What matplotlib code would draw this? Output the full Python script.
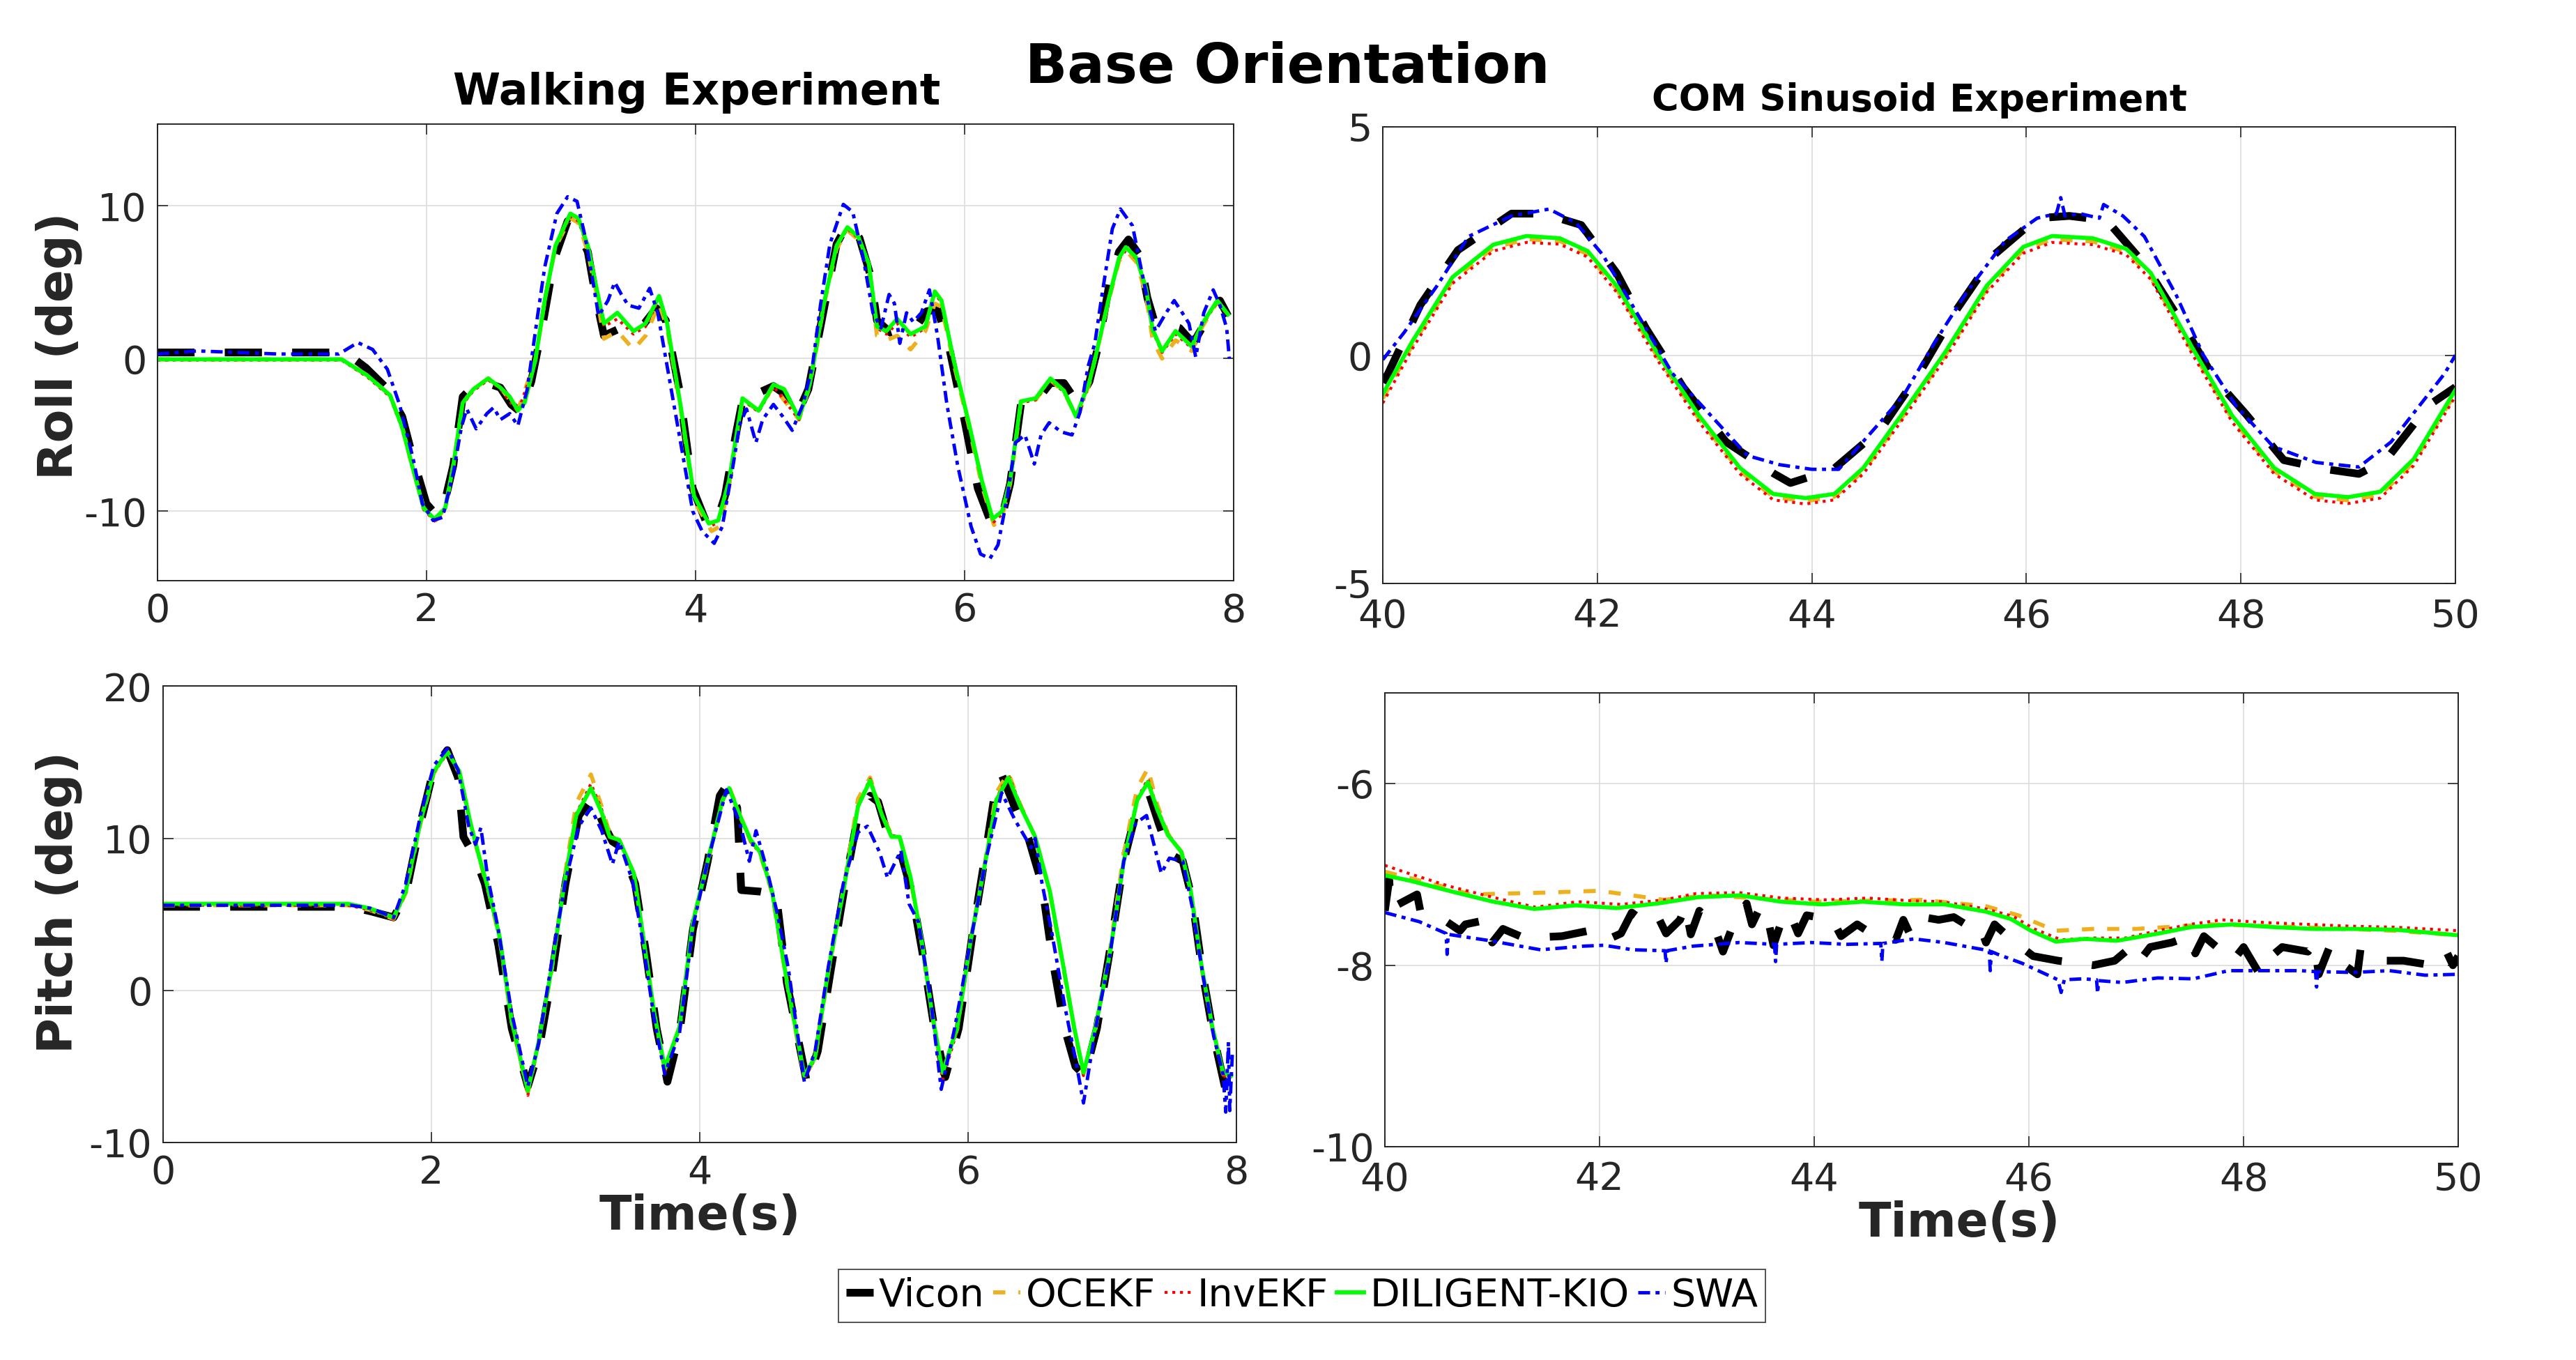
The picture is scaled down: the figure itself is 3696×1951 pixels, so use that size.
import matplotlib
matplotlib.use("Agg")
import matplotlib.pyplot as plt

plt.rcParams['font.family'] = ['DejaVu Sans']
plt.rcParams['axes.unicode_minus'] = False

# ---------------- data ----------------
# Walking experiment, roll (deg)
walk_roll_vicon_t = [0, 1.4, 1.55, 1.7, 1.82, 1.9, 2.0, 2.07, 2.12, 2.2, 2.27, 2.35, 2.45, 2.55, 2.63, 2.7, 2.78, 2.86, 2.95, 3.05,
                     3.12, 3.2, 3.26, 3.32, 3.42, 3.52, 3.62, 3.71, 3.78, 3.88, 3.98, 4.08, 4.15, 4.22, 4.3, 4.36, 4.48, 4.58, 4.66, 4.75,
                     4.84, 4.95, 5.05, 5.13, 5.22, 5.3, 5.35, 5.45, 5.55, 5.65, 5.72, 5.8, 5.88, 6.0, 6.1, 6.2, 6.27, 6.34, 6.42, 6.5,
                     6.56, 6.64, 6.74, 6.84, 6.93, 7.0, 7.08, 7.15, 7.22, 7.3, 7.36, 7.42, 7.52, 7.6, 7.7, 7.8, 7.9, 7.96]
walk_roll_vicon = [0.4, 0.4, -0.6, -1.9, -3.8, -6.5, -9.5, -10.2, -10.0, -7.0, -2.5, -1.8, -1.6, -1.9, -3.0, -3.5, -1.5, 2.0, 6.5, 9.0,
                   8.5, 7.0, 4.0, 1.5, 1.9, 1.7, 2.3, 3.3, 2.5, -2.0, -8.5, -10.7, -10.9, -9.0, -5.0, -2.3, -2.2, -1.8, -2.3, -3.8,
                   -2.0, 3.0, 7.5, 8.8, 7.9, 5.5, 2.5, 1.7, 2.0, 2.2, 3.1, 3.2, 1.0, -4.0, -8.5, -10.8, -10.7, -8.2, -3.0, -2.3,
                   -2.5, -1.6, -1.6, -2.9, -1.5, 1.0, 5.0, 7.0, 7.8, 6.8, 4.0, 2.2, 2.2, 2.0, 1.0, 2.5, 3.8, 2.8]

walk_roll_ocekf_t = [0, 1.37, 1.56, 1.73, 1.82, 1.90, 1.98, 2.07, 2.14, 2.20, 2.27, 2.35, 2.46, 2.55, 2.68, 2.81, 2.88, 2.96, 3.07, 3.13,
                     3.20, 3.27, 3.32, 3.42, 3.54, 3.63, 3.73, 3.79, 3.89, 3.99, 4.12, 4.18, 4.25, 4.35, 4.47, 4.58, 4.77, 4.85, 4.96, 5.05,
                     5.13, 5.21, 5.29, 5.35, 5.42, 5.50, 5.60, 5.71, 5.78, 5.83, 5.92, 6.03, 6.13, 6.22, 6.28, 6.34, 6.42, 6.53, 6.64, 6.74,
                     6.84, 6.93, 7.07, 7.15, 7.21, 7.28, 7.35, 7.40, 7.47, 7.57, 7.69, 7.77, 7.88, 7.96]
walk_roll_ocekf = [-0.05, -0.05, -1.1, -2.4, -4.5, -7.2, -9.8, -10.6, -9.8, -7.0, -2.9, -2.0, -1.3, -1.9, -3.4, -0.1, 3.8, 7.3, 9.2, 8.9,
                   7.0, 4.0, 1.3, 1.8, 0.6, 1.5, 3.6, 2.0, -3.2, -9.3, -11.3, -11.0, -8.3, -2.7, -3.4, -1.8, -4.0, -1.8, 3.7, 7.2,
                   8.4, 7.8, 5.8, 1.5, 1.2, 1.5, 0.6, 1.8, 3.6, 3.4, -0.3, -4.3, -8.3, -10.9, -10.4, -8.2, -2.9, -2.7, -1.4, -2.2,
                   -3.9, -1.6, 3.7, 6.4, 7.0, 6.3, 4.2, 1.2, 0.0, 1.2, 0.5, 2.1, 3.7, 2.8]

walk_roll_inv_t = [0, 1.37, 1.56, 1.73, 1.82, 1.90, 1.98, 2.07, 2.14, 2.20, 2.27, 2.35, 2.46, 2.55, 2.68, 2.81, 2.88, 2.96, 3.07, 3.13,
                   3.20, 3.27, 3.32, 3.42, 3.54, 3.63, 3.73, 3.79, 3.89, 3.99, 4.11, 4.17, 4.25, 4.35, 4.47, 4.58, 4.77, 4.85, 4.96, 5.05,
                   5.13, 5.21, 5.29, 5.35, 5.42, 5.50, 5.60, 5.71, 5.78, 5.83, 5.92, 6.03, 6.13, 6.22, 6.28, 6.34, 6.42, 6.53, 6.64, 6.74,
                   6.84, 6.93, 7.07, 7.15, 7.21, 7.28, 7.35, 7.40, 7.47, 7.57, 7.69, 7.77, 7.88, 7.96]
walk_roll_inv = [-0.1, -0.1, -1.2, -2.5, -4.6, -7.3, -9.9, -10.7, -9.9, -7.1, -3.0, -2.1, -1.4, -2.0, -3.5, -0.2, 3.7, 7.3, 9.3, 9.0,
                 7.3, 4.3, 2.1, 2.6, 1.6, 2.1, 3.9, 2.2, -3.2, -9.1, -11.0, -10.7, -8.1, -2.7, -3.5, -1.8, -4.0, -1.8, 3.7, 7.3,
                 8.5, 7.9, 6.1, 2.0, 1.6, 2.3, 1.4, 2.0, 4.2, 3.7, -0.2, -4.2, -8.1, -10.7, -10.2, -8.1, -2.9, -2.7, -1.4, -2.2,
                 -3.9, -1.6, 3.7, 6.5, 7.2, 6.5, 4.5, 1.8, 0.4, 1.6, 0.7, 2.2, 3.7, 2.8]

walk_roll_kio_t = [0, 1.37, 1.56, 1.73, 1.82, 1.90, 1.98, 2.06, 2.14, 2.20, 2.27, 2.35, 2.46, 2.55, 2.62, 2.68, 2.73, 2.81, 2.88, 2.96,
                   3.07, 3.13, 3.20, 3.27, 3.32, 3.42, 3.54, 3.63, 3.73, 3.79, 3.89, 3.99, 4.10, 4.17, 4.25, 4.35, 4.47, 4.58, 4.66, 4.77,
                   4.85, 4.96, 5.05, 5.13, 5.21, 5.29, 5.35, 5.42, 5.50, 5.60, 5.71, 5.78, 5.83, 5.92, 6.03, 6.13, 6.21, 6.28, 6.34, 6.42,
                   6.53, 6.64, 6.74, 6.83, 6.93, 6.98, 7.07, 7.15, 7.20, 7.28, 7.35, 7.40, 7.47, 7.57, 7.69, 7.77, 7.88, 7.96]
walk_roll_kio = [-0.05, -0.05, -1.1, -2.4, -4.5, -7.2, -9.8, -10.5, -9.8, -7.0, -2.9, -2.0, -1.3, -1.9, -2.5, -3.4, -2.9, -0.1, 3.8, 7.4,
                 9.5, 9.2, 7.4, 4.4, 2.3, 3.0, 1.8, 2.3, 4.1, 2.3, -3.1, -9.0, -10.8, -10.6, -8.0, -2.6, -3.4, -1.7, -2.0, -3.9,
                 -1.7, 3.8, 7.4, 8.6, 8.0, 6.2, 2.1, 1.8, 2.6, 1.6, 2.1, 4.4, 3.8, -0.1, -4.1, -8.0, -10.5, -10.0, -8.0, -2.8,
                 -2.6, -1.3, -2.1, -3.8, -1.5, 0.3, 3.8, 6.6, 7.3, 6.6, 4.6, 1.9, 0.5, 1.8, 0.8, 2.3, 3.8, 2.9]

walk_roll_swa_t = [0, 0.3, 0.6, 0.9, 1.35, 1.49, 1.6, 1.71, 1.8, 1.9, 1.97, 2.05, 2.12, 2.2, 2.26, 2.3, 2.37, 2.45, 2.5, 2.55,
                   2.62, 2.68, 2.75, 2.83, 2.88, 2.97, 3.05, 3.12, 3.18, 3.23, 3.28, 3.35, 3.4, 3.45, 3.5, 3.58, 3.66, 3.72, 3.8, 3.9,
                   3.98, 4.05, 4.14, 4.2, 4.28, 4.33, 4.38, 4.45, 4.5, 4.58, 4.65, 4.72, 4.8, 4.87, 4.93, 5.0, 5.1, 5.17, 5.25, 5.32,
                   5.38, 5.44, 5.48, 5.52, 5.57, 5.62, 5.68, 5.74, 5.8, 5.87, 5.95, 6.05, 6.12, 6.19, 6.25, 6.32, 6.38, 6.45, 6.52, 6.57,
                   6.63, 6.72, 6.8, 6.86, 6.92, 6.97, 7.02, 7.1, 7.16, 7.25, 7.3, 7.37, 7.42, 7.5, 7.56, 7.62, 7.67, 7.72, 7.78, 7.85,
                   7.9, 7.95, 7.97]
walk_roll_swa = [0.3, 0.5, 0.4, 0.3, 0.3, 1.05, 0.6, -0.7, -3.0, -6.5, -9.5, -10.6, -10.4, -7.5, -4.5, -3.3, -4.6, -3.6, -3.2, -4.0,
                 -3.6, -4.4, -2.0, 3.0, 6.0, 9.5, 10.6, 10.3, 8.0, 5.5, 2.8, 3.8, 5.0, 4.2, 3.5, 3.3, 4.6, 3.0, -1.0, -6.0,
                 -10.0, -11.3, -12.1, -11.0, -7.0, -4.3, -3.3, -5.5, -4.0, -3.0, -3.8, -4.7, -3.0, -0.5, 3.5, 7.5, 10.1, 9.6, 6.5, 3.0,
                 2.0, 4.2, 3.6, 1.0, 3.0, 2.4, 3.0, 4.5, 1.5, -3.0, -7.0, -11.0, -12.8, -13.1, -12.2, -9.0, -5.5, -5.0, -6.9, -5.0,
                 -4.2, -4.8, -5.0, -3.5, -0.5, 1.0, 4.0, 8.5, 9.8, 8.7, 6.5, 3.5, 1.8, 3.0, 3.8, 3.0, 2.3, 0.1, 3.0, 4.5,
                 3.5, 2.0, 0.0]

# Walking experiment, pitch (deg)
walk_pitch_vicon_t = [0, 1.4, 1.55, 1.72, 1.81, 1.92, 2.02, 2.12, 2.2, 2.24, 2.33, 2.4, 2.5, 2.6, 2.72, 2.8, 2.9, 3.0, 3.1, 3.2,
                      3.27, 3.35, 3.42, 3.52, 3.6, 3.68, 3.76, 3.85, 3.95, 4.06, 4.15, 4.21, 4.28, 4.31, 4.45, 4.57, 4.65, 4.8, 4.88, 4.98,
                      5.08, 5.18, 5.27, 5.33, 5.4, 5.5, 5.58, 5.66, 5.74, 5.83, 5.93, 6.03, 6.13, 6.2, 6.25, 6.35, 6.45, 6.55, 6.63, 6.72,
                      6.8, 6.87, 6.96, 7.06, 7.16, 7.26, 7.35, 7.42, 7.5, 7.6, 7.67, 7.75, 7.83, 7.93, 7.97]
walk_pitch_vicon = [5.5, 5.5, 5.2, 4.8, 6.3, 11.0, 14.6, 15.8, 14.0, 10.1, 8.7, 7.0, 3.0, -2.5, -6.3, -4.0, 1.0, 7.0, 11.5, 12.7,
                    11.2, 9.8, 9.4, 7.0, 2.5, -2.5, -6.0, -2.8, 4.0, 8.5, 12.8, 13.6, 12.0, 6.6, 6.5, 6.3, 0.5, -6.1, -4.0, 1.5,
                    6.8, 11.5, 12.8, 12.4, 10.3, 9.0, 6.5, 2.5, -2.0, -5.7, -2.5, 3.5, 9.0, 13.0, 14.2, 12.0, 10.0, 7.0, 2.0, -2.5,
                    -5.0, -5.6, -2.5, 2.8, 8.5, 12.0, 12.9, 11.0, 9.0, 8.5, 6.0, 1.0, -3.0, -7.0, -6.5]

walk_pitch_t = [0, 1.38, 1.54, 1.72, 1.81, 1.92, 2.02, 2.12, 2.21, 2.29, 2.36, 2.43, 2.51, 2.60, 2.72, 2.80, 2.90, 3.00, 3.08, 3.19,
                3.27, 3.33, 3.40, 3.51, 3.58, 3.66, 3.74, 3.85, 3.95, 4.06, 4.17, 4.22, 4.30, 4.38, 4.45, 4.54, 4.65, 4.78, 4.86, 4.96,
                5.07, 5.18, 5.27, 5.36, 5.43, 5.49, 5.57, 5.65, 5.73, 5.81, 5.92, 6.02, 6.13, 6.21, 6.30, 6.39, 6.50, 6.61, 6.71, 6.79,
                6.86, 6.95, 7.06, 7.16, 7.26, 7.34, 7.41, 7.49, 7.59, 7.66, 7.74, 7.82, 7.90, 7.96]
walk_pitch_ocekf = [5.6, 5.6, 5.3, 4.7, 6.4, 11.0, 14.3, 15.7, 14.3, 11.0, 8.6, 6.4, 3.4, -2.1, -6.7, -3.5, 1.5, 7.8, 12.3, 14.2,
                    12.1, 10.3, 9.9, 7.6, 3.4, -1.5, -5.2, -2.5, 4.4, 8.4, 12.5, 13.4, 11.5, 9.8, 9.0, 6.4, 0.5, -5.7, -4.5, 1.3,
                    6.6, 12.6, 14.0, 11.6, 10.2, 10.1, 7.4, 3.4, -1.5, -5.5, -2.5, 3.4, 8.6, 13.0, 14.3, 12.2, 10.1, 6.4, 1.5, -2.5,
                    -5.5, -2.5, 2.8, 9.0, 13.3, 14.6, 12.2, 10.3, 9.1, 6.4, 1.5, -2.5, -5.5, -5.7]
walk_pitch_inv = [5.6, 5.6, 5.3, 4.7, 6.4, 11.0, 14.3, 15.6, 14.3, 11.0, 8.6, 6.4, 3.4, -2.1, -6.9, -3.5, 1.5, 7.4, 11.6, 13.6,
                  11.9, 10.2, 9.9, 7.6, 3.4, -1.5, -5.4, -2.5, 4.4, 8.4, 12.4, 13.2, 11.4, 9.8, 9.0, 6.4, 0.5, -5.8, -4.5, 1.3,
                  6.4, 12.2, 13.9, 11.6, 10.2, 10.1, 7.4, 3.4, -1.5, -5.9, -2.6, 3.2, 8.4, 12.6, 14.2, 12.2, 10.1, 6.4, 1.5, -2.5,
                  -5.6, -2.5, 2.5, 8.4, 12.6, 13.9, 12.0, 10.3, 9.1, 6.4, 1.5, -2.5, -5.6, -5.8]
walk_pitch_kio = [5.7, 5.7, 5.4, 4.8, 6.5, 11.1, 14.4, 15.7, 14.4, 11.1, 8.7, 6.5, 3.5, -2.0, -6.6, -3.4, 1.6, 7.5, 11.5, 13.3,
                  11.7, 10.1, 9.9, 7.7, 3.5, -1.4, -5.1, -2.4, 4.5, 8.5, 12.5, 13.3, 11.5, 9.9, 9.1, 6.5, 0.6, -5.6, -4.4, 1.4,
                  6.5, 12.1, 13.8, 11.5, 10.1, 10.1, 7.5, 3.5, -1.4, -5.4, -2.4, 3.3, 8.5, 12.5, 14.0, 12.1, 10.1, 6.5, 1.6, -2.4,
                  -5.4, -2.4, 2.6, 8.5, 12.5, 13.7, 11.9, 10.2, 9.1, 6.5, 1.6, -2.4, -5.4, -5.6]

walk_pitch_swa_t = [0, 1.4, 1.55, 1.72, 1.81, 1.92, 2.02, 2.12, 2.2, 2.28, 2.33, 2.37, 2.42, 2.5, 2.6, 2.72, 2.8, 2.9, 3.0, 3.1,
                    3.19, 3.27, 3.35, 3.4, 3.5, 3.58, 3.66, 3.74, 3.85, 3.95, 4.06, 4.2, 4.3, 4.37, 4.42, 4.5, 4.58, 4.66, 4.78, 4.86,
                    4.96, 5.07, 5.18, 5.25, 5.34, 5.4, 5.5, 5.56, 5.63, 5.72, 5.8, 5.9, 6.02, 6.13, 6.25, 6.35, 6.47, 6.5, 6.55, 6.62,
                    6.72, 6.8, 6.86, 6.95, 7.06, 7.16, 7.25, 7.33, 7.44, 7.5, 7.6, 7.67, 7.75, 7.83, 7.9, 7.92, 7.94, 7.95, 7.97]
walk_pitch_swa = [5.6, 5.6, 5.4, 4.8, 7.0, 11.5, 14.8, 15.9, 14.5, 10.8, 9.6, 10.7, 7.5, 4.0, -1.5, -6.3, -3.5, 2.0, 7.2, 10.8,
                  12.0, 10.5, 8.3, 9.8, 7.2, 3.0, -1.8, -5.5, -2.8, 4.2, 8.5, 13.2, 11.0, 8.5, 10.5, 8.0, 5.0, 1.5, -6.0, -4.0,
                  1.6, 7.0, 10.4, 10.8, 9.1, 7.4, 9.2, 5.7, 4.5, -0.5, -6.5, -2.5, 3.3, 8.5, 13.0, 11.2, 9.4, 10.0, 7.1, 4.0,
                  -1.0, -4.5, -7.4, -2.5, 2.5, 8.5, 11.0, 11.5, 7.7, 8.7, 8.5, 5.5, 1.0, -3.0, -5.5, -8.0, -3.4, -7.9, -4.0]

# COM sinusoid experiment, roll (deg)
com_roll_vicon_t = [40.0, 40.05, 40.35, 40.7, 41.2, 41.5, 41.85, 42.18, 42.45, 42.8, 43.2, 43.65, 43.8, 44.2, 44.65, 45.0,
                    45.35, 45.7, 46.1, 46.4, 46.75, 47.1, 47.45, 47.75, 48.05, 48.4, 48.8, 49.1, 49.35, 49.75, 50.0]
com_roll_vicon = [-0.6, -0.4, 1.1, 2.3, 3.1, 3.1, 2.85, 1.8, 0.6, -0.7, -1.9, -2.6, -2.8, -2.5, -1.6, -0.4,
                  1.0, 2.2, 3.0, 3.05, 2.95, 2.0, 0.7, -0.5, -1.3, -2.3, -2.5, -2.6, -2.3, -1.1, -0.7]
com_roll_t = [40.0, 40.27, 40.65, 41.03, 41.34, 41.65, 41.91, 42.18, 42.57, 42.95, 43.33, 43.64, 43.94, 44.21, 44.48, 44.86,
              45.25, 45.63, 45.97, 46.24, 46.62, 46.93, 47.16, 47.54, 47.92, 48.31, 48.69, 49.0, 49.30, 49.61, 50.0]
com_roll_ocekf = [-0.95, 0.2, 1.64, 2.35, 2.54, 2.5, 2.21, 1.45, -0.07, -1.4, -2.54, -3.1, -3.2, -3.1, -2.54, -1.3,
                  0.02, 1.45, 2.3, 2.54, 2.49, 2.26, 1.73, 0.12, -1.4, -2.54, -3.1, -3.18, -3.06, -2.35, -0.83]
com_roll_inv = [-1.05, 0.12, 1.57, 2.28, 2.47, 2.43, 2.15, 1.38, -0.14, -1.47, -2.6, -3.17, -3.26, -3.17, -2.6, -1.36,
                -0.05, 1.38, 2.23, 2.47, 2.42, 2.2, 1.66, 0.05, -1.47, -2.6, -3.17, -3.25, -3.13, -2.42, -0.9]
com_roll_kio = [-0.85, 0.28, 1.71, 2.42, 2.61, 2.56, 2.28, 1.52, 0.0, -1.33, -2.47, -3.04, -3.13, -3.04, -2.47, -1.23,
                0.09, 1.52, 2.37, 2.61, 2.56, 2.33, 1.80, 0.19, -1.33, -2.47, -3.04, -3.11, -2.99, -2.28, -0.76]
com_roll_swa_t = [40.0, 40.2, 40.5, 40.8, 41.2, 41.55, 41.8, 42.05, 42.35, 42.7, 43.05, 43.4, 43.7, 44.0, 44.25, 44.55,
                  44.85, 45.15, 45.45, 45.8, 46.1, 46.28, 46.32, 46.36, 46.5, 46.68, 46.72, 46.9, 47.1, 47.4, 47.65, 47.95,
                  48.3, 48.7, 49.1, 49.4, 49.7, 49.9, 50.0]
com_roll_swa = [-0.1, 0.5, 1.5, 2.6, 3.05, 3.2, 2.9, 2.2, 1.0, -0.4, -1.3, -2.2, -2.4, -2.5, -2.5, -1.7,
                -0.9, 0.3, 1.4, 2.5, 3.0, 3.1, 3.45, 3.05, 3.1, 3.0, 3.3, 3.05, 2.6, 1.3, 0.0, -1.1,
                -2.0, -2.35, -2.45, -1.9, -1.0, -0.4, 0.0]

# COM sinusoid experiment, pitch (deg)
com_pitch_vicon_t = [40.0, 40.04, 40.06, 40.3, 40.33, 40.55, 40.7, 40.75, 40.95, 41.0, 41.1, 41.3, 41.65, 41.9, 42.05, 42.2,
                     42.3, 42.45, 42.55, 42.62, 42.75, 42.8, 42.85, 42.93, 43.07, 43.15, 43.23, 43.37, 43.42, 43.5, 43.57,
                     43.62, 43.7, 43.77, 43.85, 43.93, 44.17, 44.25, 44.4, 44.53, 44.76, 44.83, 44.9, 45.06, 45.16, 45.3,
                     45.41, 45.54, 45.6, 45.68, 45.84, 46.04, 46.27, 46.6, 46.8, 46.9, 47.0, 47.13, 47.33, 47.5, 47.55,
                     47.63, 47.73, 47.9, 48.0, 48.06, 48.15, 48.26, 48.36, 48.6, 48.66, 48.7, 48.8, 48.82, 49.06, 49.09,
                     49.29, 49.49, 49.75, 49.89, 49.95, 50.0]
com_pitch_vicon = [-7.4, -7.06, -7.37, -7.22, -7.4, -7.5, -7.62, -7.55, -7.5, -7.75, -7.6, -7.7, -7.68, -7.62, -7.73, -7.65,
                   -7.42, -7.55, -7.48, -7.65, -7.5, -7.35, -7.66, -7.4, -7.58, -7.85, -7.6, -7.32, -7.55, -7.35, -7.5,
                   -7.78, -7.5, -7.42, -7.65, -7.45, -7.5, -7.68, -7.55, -7.65, -7.72, -7.5, -7.68, -7.48, -7.5, -7.47,
                   -7.55, -7.55, -7.75, -7.55, -7.72, -7.9, -7.95, -8.0, -7.95, -7.85, -8.0, -7.8, -7.75, -7.68, -7.87,
                   -7.68, -7.78, -7.95, -7.8, -7.92, -8.1, -7.9, -7.8, -7.85, -7.76, -8.1, -7.8, -7.9, -8.1, -7.82,
                   -7.95, -7.95, -8.0, -7.85, -8.0, -7.9]
com_pitch_ocekf_t = [40.0, 40.5, 40.8, 41.5, 42.0, 42.6, 43.0, 44.0, 45.0, 45.6, 45.9, 46.25, 46.6, 47.0, 47.7, 48.5, 49.4, 50.0]
com_pitch_ocekf = [-6.97, -7.12, -7.22, -7.2, -7.18, -7.28, -7.23, -7.3, -7.28, -7.35, -7.45, -7.62, -7.6, -7.6, -7.55, -7.58, -7.62, -7.67]
com_pitch_inv_t = [40.0, 40.2, 40.6, 41.0, 41.4, 41.8, 42.2, 42.6, 42.9, 43.3, 43.7, 44.1, 44.5, 44.9, 45.2, 45.6,
                   45.85, 46.05, 46.3, 46.6, 46.9, 47.2, 47.5, 47.8, 48.2, 48.6, 49.0, 49.4, 50.0]
com_pitch_inv = [-6.9, -6.98, -7.13, -7.25, -7.36, -7.3, -7.33, -7.28, -7.21, -7.2, -7.26, -7.28, -7.26, -7.29, -7.3, -7.38,
                 -7.46, -7.6, -7.72, -7.7, -7.7, -7.62, -7.55, -7.5, -7.53, -7.55, -7.57, -7.58, -7.62]
com_pitch_kio_t = [40.0, 40.24, 40.63, 41.01, 41.39, 41.78, 42.16, 42.54, 42.92, 43.31, 43.69, 44.07, 44.45, 44.84, 45.22,
                   45.6, 45.83, 46.02, 46.25, 46.52, 46.82, 47.21, 47.51, 47.9, 48.28, 48.66, 49.04, 49.43, 50.0]
com_pitch_kio = [-7.01, -7.07, -7.19, -7.3, -7.38, -7.34, -7.37, -7.32, -7.25, -7.23, -7.3, -7.33, -7.3, -7.33, -7.33,
                 -7.41, -7.49, -7.62, -7.74, -7.71, -7.73, -7.65, -7.58, -7.55, -7.58, -7.6, -7.6, -7.61, -7.67]
com_pitch_swa_t = [40.0, 40.32, 40.57, 40.58, 40.59, 40.98, 41.45, 41.85, 42.04, 42.31, 42.61, 42.62, 42.63, 42.87, 43.3,
                   43.63, 43.64, 43.65, 43.97, 44.3, 44.62, 44.63, 44.64, 44.93, 45.21, 45.63, 45.64, 45.65, 45.71, 45.94,
                   46.27, 46.3, 46.33, 46.5, 46.63, 46.64, 46.65, 46.87, 47.2, 47.53, 47.86, 48.19, 48.53, 48.67, 48.68,
                   48.69, 49.02, 49.36, 49.69, 50.0]
com_pitch_swa = [-7.42, -7.52, -7.65, -7.88, -7.66, -7.73, -7.83, -7.79, -7.78, -7.83, -7.84, -7.98, -7.84, -7.79, -7.75,
                 -7.77, -7.96, -7.77, -7.75, -7.77, -7.76, -7.96, -7.76, -7.71, -7.75, -7.84, -8.06, -7.85, -7.88, -7.98,
                 -8.16, -8.3, -8.16, -8.15, -8.16, -8.31, -8.17, -8.19, -8.14, -8.15, -8.06, -8.06, -8.06, -8.07, -8.24,
                 -8.07, -8.08, -8.06, -8.11, -8.1]

labels = ['Vicon', 'OCEKF', 'InvEKF', 'DILIGENT-KIO', 'SWA']

# ---------------- styles ----------------
DARK = '#262626'
styles = [
    dict(color='black', lw=8, dashes=(4.8, 3.9)),
    dict(color='#EDB120', lw=4.2, dashes=(3.0, 3.2)),
    dict(color='red', lw=3.0, linestyle=':'),
    dict(color='#00FF00', lw=4.2, linestyle='-'),
    dict(color='blue', lw=3.5, dashes=(3.5, 1.6, 1.2, 1.6)),
]

fig = plt.figure(figsize=(36.96, 19.51), dpi=100)

ax_tl = fig.add_axes([0.0611, 0.5732, 0.4177, 0.3358])
ax_tr = fig.add_axes([0.5368, 0.5710, 0.4164, 0.3357])
ax_bl = fig.add_axes([0.0632, 0.1599, 0.4168, 0.3355])
ax_br = fig.add_axes([0.5376, 0.1568, 0.4167, 0.3337])

panels = [
    (ax_tl, [(walk_roll_vicon_t, walk_roll_vicon), (walk_roll_ocekf_t, walk_roll_ocekf),
             (walk_roll_inv_t, walk_roll_inv), (walk_roll_kio_t, walk_roll_kio),
             (walk_roll_swa_t, walk_roll_swa)]),
    (ax_tr, [(com_roll_vicon_t, com_roll_vicon), (com_roll_t, com_roll_ocekf),
             (com_roll_t, com_roll_inv), (com_roll_t, com_roll_kio),
             (com_roll_swa_t, com_roll_swa)]),
    (ax_bl, [(walk_pitch_vicon_t, walk_pitch_vicon), (walk_pitch_t, walk_pitch_ocekf),
             (walk_pitch_t, walk_pitch_inv), (walk_pitch_t, walk_pitch_kio),
             (walk_pitch_swa_t, walk_pitch_swa)]),
    (ax_br, [(com_pitch_vicon_t, com_pitch_vicon), (com_pitch_ocekf_t, com_pitch_ocekf),
             (com_pitch_inv_t, com_pitch_inv), (com_pitch_kio_t, com_pitch_kio),
             (com_pitch_swa_t, com_pitch_swa)]),
]

handles = []
for ax, series in panels:
    hs = []
    for (t, v), st, lab in zip(series, styles, labels):
        h, = ax.plot(t, v, label=lab, **st)
        hs.append(h)
    handles = hs
    ax.grid(True, color='#dcdcdc', lw=1.2)
    ax.set_axisbelow(True)
    ax.tick_params(direction='in', length=11, width=1.2, top=True, right=True,
                   labelsize=40, colors=DARK, labelcolor=DARK)
    ax.tick_params(axis='x', pad=12)
    ax.tick_params(axis='y', pad=11)
    for sp in ax.spines.values():
        sp.set_color(DARK)
        sp.set_linewidth(1.4)

# a little more room between the corner labels on the right-hand panels
ax_tr.tick_params(axis='x', pad=15)
ax_br.tick_params(axis='x', pad=15)

ax_tl.set_xlim(0, 8)
ax_tl.set_ylim(-14.53, 15.38)
ax_tl.set_xticks([0, 2, 4, 6, 8])
ax_tl.set_yticks([-10, 0, 10])

ax_bl.set_xlim(0, 8)
ax_bl.set_ylim(-10, 20)
ax_bl.set_xticks([0, 2, 4, 6, 8])
ax_bl.set_yticks([-10, 0, 10, 20])

ax_tr.set_xlim(40, 50)
ax_tr.set_ylim(-5, 5)
ax_tr.set_xticks([40, 42, 44, 46, 48, 50])
ax_tr.set_yticks([-5, 0, 5])

ax_br.set_xlim(40, 50)
ax_br.set_ylim(-10, -5)
ax_br.set_xticks([40, 42, 44, 46, 48, 50])
ax_br.set_yticks([-10, -8, -6])

ax_tl.set_ylabel('Roll (deg)', fontsize=50, fontweight='bold', color=DARK)
ax_tl.yaxis.set_label_coords(-0.070, 0.514)
ax_bl.set_ylabel('Pitch (deg)', fontsize=50, fontweight='bold', color=DARK)
ax_bl.yaxis.set_label_coords(-0.075, 0.527)

ax_bl.set_xlabel('Time(s)', fontsize=49, fontweight='bold', color=DARK)
ax_bl.xaxis.set_label_coords(0.5, -0.112)
ax_br.set_xlabel('Time(s)', fontsize=49, fontweight='bold', color=DARK)
ax_br.xaxis.set_label_coords(0.535, -0.118)

fig.text(1000 / 3696, 1 - 133 / 1951, 'Walking Experiment', fontsize=44.5, fontweight='bold',
         ha='center', va='center')
fig.text(2754 / 3696, 1 - 144 / 1951, 'COM Sinusoid Experiment', fontsize=38, fontweight='bold',
         ha='center', va='center')
fig.text(1847 / 3696, 1 - 97 / 1951, 'Base Orientation', fontsize=57, fontweight='bold',
         ha='center', va='center')

leg = fig.legend(handles, labels, loc='center', bbox_to_anchor=(0.5054, 0.0472), ncol=5,
                 fontsize=40, frameon=True, fancybox=False, handlelength=0.7,
                 handletextpad=0.15, columnspacing=0.22, borderpad=0.2, borderaxespad=0)
leg.get_frame().set_edgecolor(DARK)
leg.get_frame().set_linewidth(1.4)

fig.savefig('out.png', dpi=100, facecolor='white')
